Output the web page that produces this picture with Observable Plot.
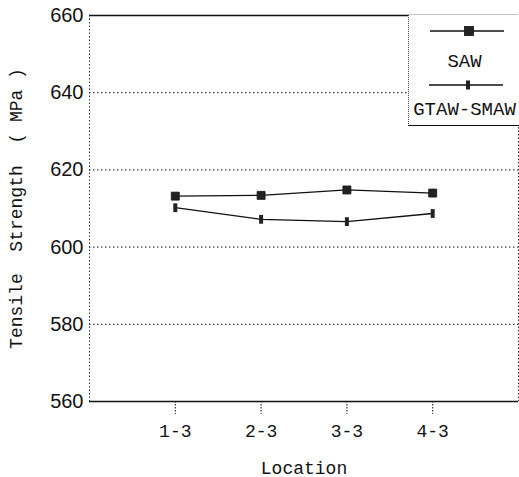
<!DOCTYPE html>
<html>
<head>
<meta charset="utf-8">
<script src="https://cdn.jsdelivr.net/npm/d3@7"></script>
<script src="https://cdn.jsdelivr.net/npm/@observablehq/plot@0.6"></script>
<style>
  html, body { margin: 0; padding: 0; background: #fff; }
  #wrap { position: relative; width: 519px; height: 477px; }
  #legend {
    position: absolute; left: 408px; top: 15px; width: 111px; height: 110px;
    background: #fff; border-left: 1px dotted #444; border-bottom: 1.6px solid #111;
    font-family: "Liberation Mono", "DejaVu Sans Mono", monospace; font-size: 19px; color: #111;
  }
  #legend svg { position: absolute; left: 0; top: 0; }
  .lg-text { position: absolute; left: 0; width: 111px; text-align: center; line-height: 1; }
</style>
</head>
<body>
<div id="wrap"></div>
<script>
// ---- data ----
const locations = ["1-3", "2-3", "3-3", "4-3"];
const locationIndex = [1, 2, 3, 4];
const sawValues = [613.2, 613.4, 614.8, 614.0];
const gtawValues = [610.2, 607.2, 606.6, 608.7];
const yTicks = [560, 580, 600, 620, 640, 660];
const gridValues = [580, 600, 620, 640];
const seriesNames = ["SAW", "GTAW-SMAW"];

const rows = [];
locationIndex.forEach((x, i) => {
  rows.push({series: seriesNames[0], x, y: sawValues[i]});
  rows.push({series: seriesNames[1], x, y: gtawValues[i]});
});
const saw = rows.filter(d => d.series === seriesNames[0]);
const gtaw = rows.filter(d => d.series === seriesNames[1]);

// custom small vertical bar symbol for GTAW-SMAW
const barSymbol = {
  draw(ctx, size) {
    const r = Math.sqrt(size / Math.PI);
    const w = r * 0.5, h = r * 1.1;
    ctx.moveTo(-w, -h); ctx.lineTo(w, -h); ctx.lineTo(w, h); ctx.lineTo(-w, h); ctx.closePath();
  }
};

const mono = "'Liberation Mono', 'DejaVu Sans Mono', monospace";

const chart = Plot.plot({
  width: 519,
  height: 477,
  marginLeft: 89,
  marginRight: 1,
  marginTop: 15,
  marginBottom: 76,
  style: {background: "#fff", color: "#111"},
  x: {domain: [0, 5]},
  y: {domain: [560, 660]},
  marks: [
    Plot.ruleY(gridValues, {stroke: "#111", strokeWidth: 1, strokeDasharray: "1.5,2.5"}),
    Plot.ruleX([0, 5], {stroke: "#333", strokeWidth: 1, strokeDasharray: "1.5,2"}),
    Plot.ruleY([560, 660], {stroke: "#111", strokeWidth: 1.6}),
    Plot.line(saw, {x: "x", y: "y", stroke: "#111", strokeWidth: 1.3}),
    Plot.line(gtaw, {x: "x", y: "y", stroke: "#111", strokeWidth: 1.3}),
    Plot.dot(saw, {x: "x", y: "y", symbol: "square", r: 4.5, fill: "#222", stroke: "#111", strokeWidth: 0.8}),
    Plot.dot(gtaw, {x: "x", y: "y", symbol: barSymbol, r: 4, fill: "#222"}),
    Plot.axisX({
      ticks: locationIndex,
      tickFormat: i => locations[i - 1],
      tickSize: 13,
      tickPadding: 10,
      strokeDasharray: "1.5,1.5",
      fontFamily: mono,
      fontSize: 18,
      label: "Location",
      labelAnchor: "center",
      labelArrow: "none",
      labelOffset: 72
    }),
    Plot.axisY({
      ticks: yTicks,
      tickSize: 0,
      tickPadding: 6,
      fontFamily: "'Liberation Sans', Arial, sans-serif",
      fontSize: 20,
      label: "Tensile  Strength  ( MPa )",
      labelAnchor: "center",
      labelArrow: "none",
      labelOffset: 80
    })
  ]
});

// style the axis labels in monospace
d3.select(chart).selectAll("[aria-label='x-axis label'] text, [aria-label='y-axis label'] text")
  .attr("font-family", mono).attr("font-size", 18);

const wrap = document.getElementById("wrap");
wrap.appendChild(chart);

// legend
const legend = document.createElement("div");
legend.id = "legend";
legend.innerHTML = `
<svg width="111" height="110">
  <line x1="21" x2="95" y1="16" y2="16" stroke="#111" stroke-width="1.3"/>
  <rect x="55.5" y="11.5" width="9" height="9" fill="#222" stroke="#111" stroke-width="0.8"/>
  <line x1="20" x2="94" y1="70" y2="70" stroke="#111" stroke-width="1.3"/>
  <rect x="57" y="65.5" width="4" height="9" fill="#222"/>
</svg>
<div class="lg-text" style="top:38px">${seriesNames[0]}</div>
<div class="lg-text" style="top:86px">${seriesNames[1]}</div>`;
wrap.appendChild(legend);
</script>
</body>
</html>
